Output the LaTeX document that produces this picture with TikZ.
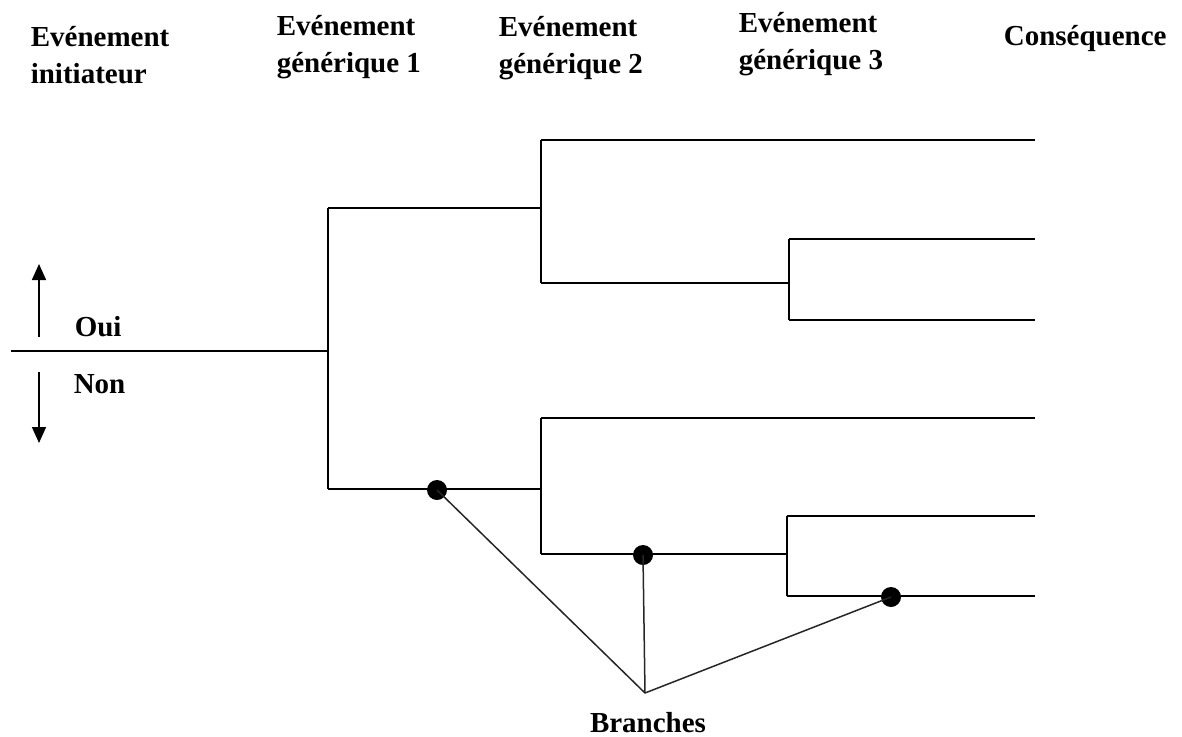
\documentclass[tikz,border=0pt]{standalone}
\usepackage{fontspec}
\setmainfont{Liberation Serif}
\usetikzlibrary{arrows.meta}
\begin{document}
\begin{tikzpicture}[x=1pt,y=-1pt,
  line width=1.6pt,
  label/.style={font=\bfseries\fontsize{29}{37}\selectfont, inner sep=0pt, align=left, anchor=base west},
  dot/.style={circle, fill=black, inner sep=0pt, minimum width=19pt, minimum height=20pt},
  tip/.style={-{Triangle[length=16pt,width=14pt]}},
  spoke/.style={line width=1.5pt, draw=black!85}]
\useasboundingbox (0,0) rectangle (1182,736);

% column headings (anchored on the baseline of their last line)
\node[label] (h0) at (30,83) {Evénement\\initiateur};
\node[label] (h1) at (276,72) {Evénement\\générique 1};
\node[label] (h2) at (498,73) {Evénement\\générique 2};
\node[label] (h3) at (738,69) {Evénement\\générique 3};
\node[label] (h4) at (1003,45) {Conséquence};

% yes / no legend
\node[label] (oui) at (74,336) {Oui};
\node[label] (non) at (73,393) {Non};
\coordinate (up0) at (39,337);
\coordinate (up1) at (39,264);
\coordinate (dn0) at (39,372);
\coordinate (dn1) at (39,443);
\draw[tip] (up0) -- (up1);
\draw[tip] (dn0) -- (dn1);

% tree junctions and ends
\coordinate (s)   at (11,351);
\coordinate (a)   at (328,351);
\coordinate (a1)  at (328,208);
\coordinate (a2)  at (328,489);
\coordinate (b1)  at (541,208);
\coordinate (b1u) at (541,140);
\coordinate (b1d) at (541,283);
\coordinate (c1)  at (789,283);
\coordinate (c1u) at (789,239);
\coordinate (c1d) at (789,320);
\coordinate (b2)  at (541,489);
\coordinate (b2u) at (541,418);
\coordinate (b2d) at (541,554);
\coordinate (c2)  at (787,554);
\coordinate (c2u) at (787,516);
\coordinate (c2d) at (787,596);
\coordinate (e1)  at (1035,140);
\coordinate (e2)  at (1035,239);
\coordinate (e3)  at (1035,320);
\coordinate (e4)  at (1035,418);
\coordinate (e5)  at (1035,516);
\coordinate (e6)  at (1035,596);

% event tree
\draw (s) -- (a);
\draw (a1) -- (a2);
\draw (a1) -- (b1);
\draw (b1u) -- (b1d);
\draw (b1u) -- (e1);
\draw (b1d) -- (c1);
\draw (c1u) -- (c1d);
\draw (c1u) -- (e2);
\draw (c1d) -- (e3);
\draw (a2) -- (b2);
\draw (b2u) -- (b2d);
\draw (b2u) -- (e4);
\draw (b2d) -- (c2);
\draw (c2u) -- (c2d);
\draw (c2u) -- (e5);
\draw (c2d) -- (e6);

% branch markers
\node[dot] (d1) at (437,490) {};
\node[dot] (d2) at (643,555) {};
\node[dot] (d3) at (891,597) {};
\coordinate (v) at (645,693);
\node[label, anchor=base] (br) at (648,732) {Branches};
\draw[spoke] (d1.center) -- (v);
\draw[spoke] (d2.center) -- (v);
\draw[spoke] (d3.center) -- (v);
\end{tikzpicture}
\end{document}
